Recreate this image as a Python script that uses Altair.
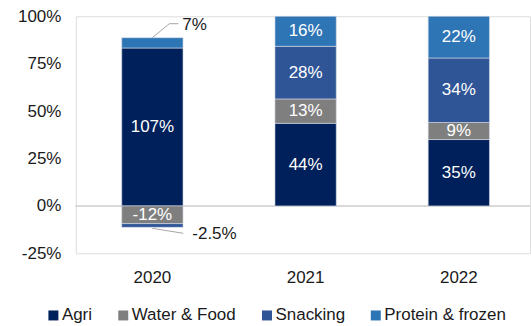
import altair as alt
import pandas as pd

years = ["2020", "2021", "2022"]
series = ["Agri", "Water & Food", "Snacking", "Protein & frozen"]
agri = [107, 44, 35]
water_food = [-12, 13, 9]
snacking = [-2.5, 28, 34]
protein_frozen = [7, 16, 22]
colors = ["#00205B", "#7F7F7F", "#2F5597", "#2E75B6"]
y_ticks = [-0.25, 0, 0.25, 0.5, 0.75, 1.0]

rows = []
for si, (name, vals) in enumerate(zip(series, [agri, water_food, snacking, protein_frozen])):
    for yr, v in zip(years, vals):
        rows.append({"year": yr, "series": name, "order": si, "value": v, "label": f"{v:g}%"})
df = pd.DataFrame(rows)

FONT = "Liberation Sans"
FS = 17
TXT = "#1a1a1a"

base = (
    alt.Chart(df)
    .transform_calculate(absval="abs(datum.value)")
    .transform_joinaggregate(total="sum(absval)", groupby=["year"])
    .transform_calculate(share="datum.value / datum.total")
    .transform_stack(stack="share", groupby=["year"], as_=["y0", "y1"],
                     sort=[alt.SortField("order", order="ascending")])
    .transform_calculate(ymid="(datum.y0 + datum.y1) / 2")
)

xaxis = alt.Axis(title=None, labelAngle=0, domain=False, ticks=False, labelFontSize=FS,
                 labelFont=FONT, labelColor=TXT, labelPadding=16)
xscale = alt.Scale(paddingInner=0.6, paddingOuter=0.282, align=0.531)
yaxis = alt.Axis(title=None, values=y_ticks, labelExpr="round(datum.value * 100) + '%'",
                 grid=False, domain=False, ticks=False,
                 labelFontSize=FS, labelFont=FONT, labelColor=TXT, labelPadding=15,
                 minExtent=76, maxExtent=76)
yscale = alt.Scale(domain=[-0.25, 1.0], nice=False, zero=False)

X = alt.X("year:N", scale=xscale, axis=xaxis, sort=years)

zero_rule = alt.Chart(df).mark_rule(color="#D9D9D9", strokeWidth=1.5).encode(
    y=alt.Y(datum=0, type="quantitative", scale=yscale, axis=yaxis)
)

bars = base.mark_bar(stroke="#D6DCE5", strokeWidth=0.6).encode(
    x=X,
    y=alt.Y("y0:Q", scale=yscale, axis=yaxis),
    y2="y1:Q",
    color=alt.Color(
        "series:N",
        scale=alt.Scale(domain=series, range=colors),
        legend=alt.Legend(title=None, orient="none", legendX=-31, legendY=291,
                          direction="horizontal", symbolType="square", symbolSize=100,
                          symbolStrokeWidth=0, labelFontSize=FS, labelFont=FONT,
                          labelColor=TXT, columnPadding=22, labelOffset=0, padding=0),
    ),
)

inside = base.transform_filter("abs(datum.share) >= 0.06").mark_text(
    color="#FFFFFF", fontSize=FS, font=FONT, baseline="middle", align="center"
).encode(x=X, y=alt.Y("ymid:Q", scale=yscale, axis=yaxis), text="label:N")

top_small = base.transform_filter("abs(datum.share) < 0.06 && datum.value > 0")
bot_small = base.transform_filter("abs(datum.share) < 0.06 && datum.value < 0")

lead_top1 = top_small.mark_rule(color="#A6A6A6", strokeWidth=1, x2Offset=17, y2Offset=-14).encode(
    x=X, x2="year:N", y=alt.Y("y1:Q", scale=yscale, axis=yaxis), y2="y1:Q"
)
lead_top2 = top_small.mark_rule(color="#A6A6A6", strokeWidth=1, xOffset=17, x2Offset=26,
                                yOffset=-14, y2Offset=-14).encode(
    x=X, x2="year:N", y=alt.Y("y1:Q", scale=yscale, axis=yaxis), y2="y1:Q"
)
text_top = top_small.mark_text(color=TXT, fontSize=FS, font=FONT, align="left",
                               baseline="middle", dx=30, dy=-13).encode(
    x=X, y=alt.Y("y1:Q", scale=yscale, axis=yaxis), text="label:N"
)
lead_bot = bot_small.mark_rule(color="#A6A6A6", strokeWidth=1, yOffset=1, x2Offset=31, y2Offset=6).encode(
    x=X, x2="year:N", y=alt.Y("y1:Q", scale=yscale, axis=yaxis), y2="y1:Q"
)
text_bot = bot_small.mark_text(color=TXT, fontSize=FS, font=FONT, align="left",
                               baseline="middle", dx=40, dy=7).encode(
    x=X, y=alt.Y("y1:Q", scale=yscale, axis=yaxis), text="label:N"
)

chart = (
    alt.layer(zero_rule, bars, inside, lead_top1, lead_top2, text_top, lead_bot, text_bot)
    .properties(width=455, height=237.5,
                padding={"left": 0, "top": 7, "right": 0, "bottom": 0})
    .configure_view(stroke=None)
    .configure(font=FONT)
)

chart.save("out.html", embed_options={"renderer": "svg", "actions": False})
